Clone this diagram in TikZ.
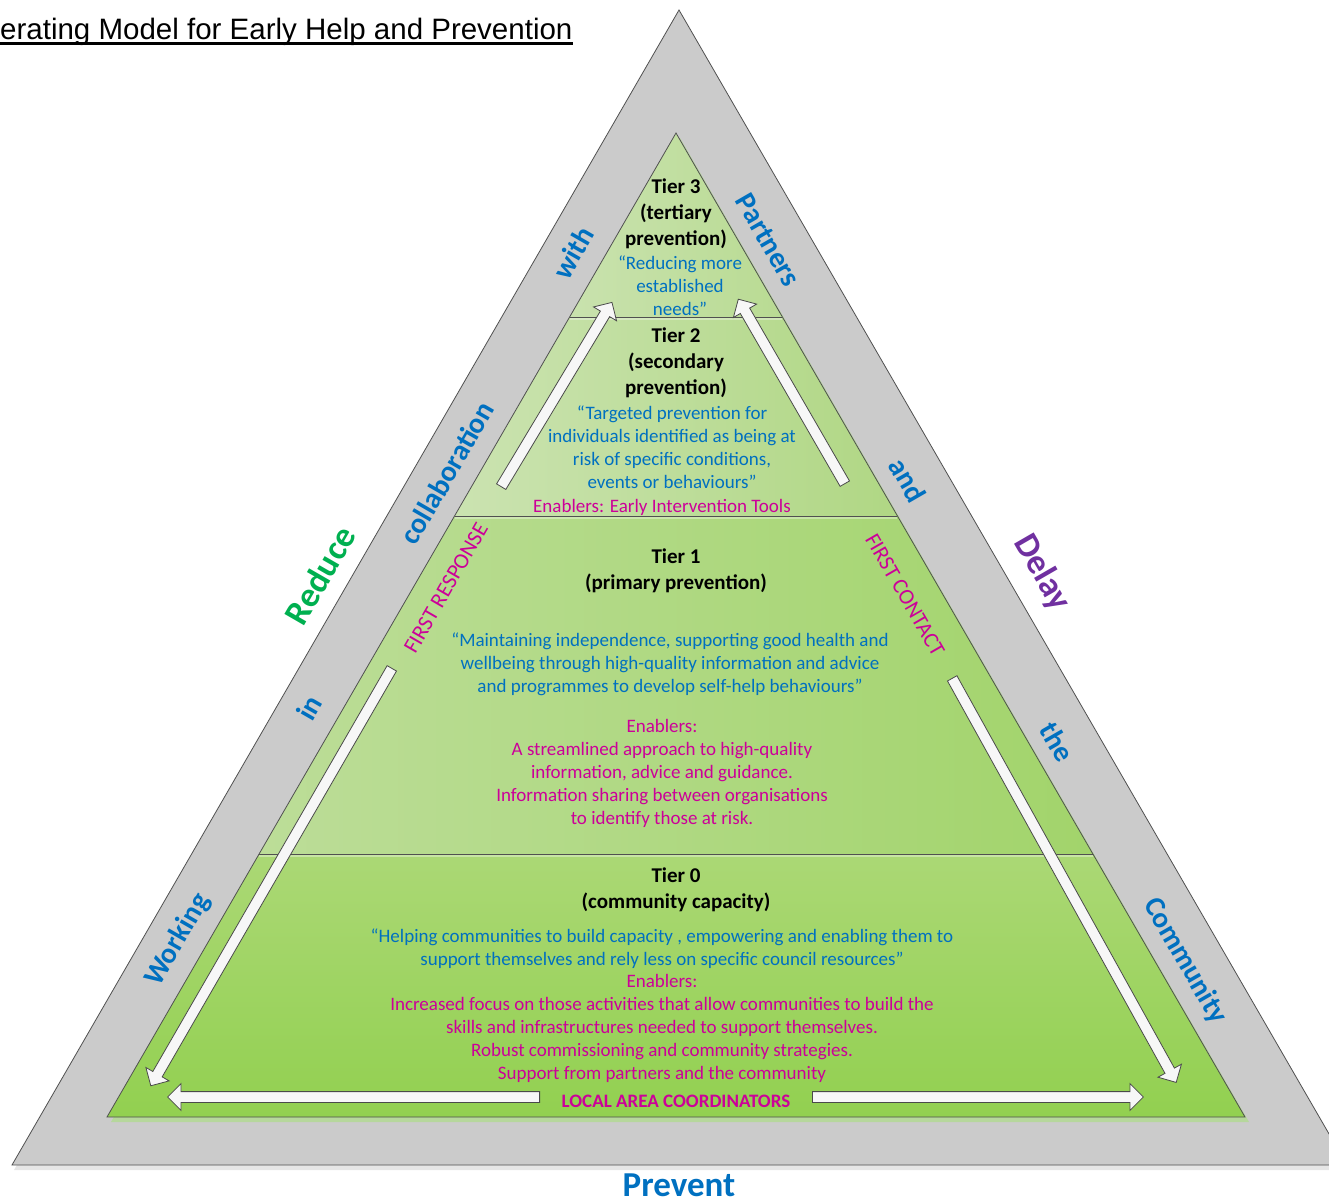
\documentclass[tikz,border=0pt]{standalone}
\usepackage{fontspec}
\setmainfont{Carlito}
\newfontfamily\titlefont{Liberation Sans}
\usetikzlibrary{calc,shapes.arrows}

\definecolor{bandgrey}{HTML}{CBCBCB}
\definecolor{bandshadow}{HTML}{E6E6E6}
\definecolor{edgegrey}{HTML}{505050}
\definecolor{greenshadow}{HTML}{B6D79C}
\definecolor{quoteblue}{HTML}{0070C0}
\definecolor{enablerpink}{HTML}{CC0099}
\definecolor{reducegreen}{HTML}{00B050}
\definecolor{delaypurple}{HTML}{7030A0}
\definecolor{arrowfill}{HTML}{F7F7F7}
\definecolor{arrowline}{HTML}{4A4A4A}
\definecolor{tierthreeleft}{HTML}{C9E2AE}
\definecolor{tierthreeright}{HTML}{B9DB93}
\definecolor{tiertwoleft}{HTML}{CBE3B1}
\definecolor{tiertworight}{HTML}{B0D784}
\definecolor{tieroneleft}{HTML}{BCDD98}
\definecolor{tieroneright}{HTML}{A2D46B}
\definecolor{tierzerotop}{HTML}{ABD875}
\definecolor{tierzerobottom}{HTML}{92D050}

\begin{document}
\begin{tikzpicture}[x=1pt,y=-1pt,
    tierhead/.style={font=\bfseries\fontsize{21}{26}\selectfont, align=center, inner sep=0pt},
    tierquote/.style={font=\fontsize{19}{23}\selectfont, text=quoteblue, align=center, inner sep=0pt},
    enabler/.style={font=\fontsize{19}{23}\selectfont, text=enablerpink, align=center, inner sep=0pt},
    bandword/.style={font=\bfseries\fontsize{29}{34}\selectfont, text=quoteblue, inner sep=0pt},
    outerword/.style={font=\bfseries\fontsize{35}{40}\selectfont, inner sep=0pt},
    contactword/.style={font=\fontsize{22}{25}\selectfont, text=enablerpink, inner sep=0pt},
    flowarrow/.style={single arrow, anchor=tail, draw=arrowline, fill=arrowfill,
      line width=0.8pt, inner sep=5pt, single arrow head extend=8pt}]
  \useasboundingbox (0,0) rectangle (1329,1198);

  % outer grey band
  \coordinate (gtop) at (679,10);
  \coordinate (gleft) at (12,1165);
  \coordinate (gright) at (1347,1165);
  \fill[bandshadow] ($(gtop)+(2,5)$) -- ($(gleft)+(2,5)$) -- ($(gright)+(2,5)$) -- cycle;
  \filldraw[fill=bandgrey, draw=edgegrey, line width=0.8pt] (gtop) -- (gleft) -- (gright) -- cycle;

  % inner pyramid, cut into the four tiers
  \coordinate (apex) at (676,133);
  \coordinate (bl) at (107,1117);
  \coordinate (br) at (1245,1117);
  \foreach \t/\f in {3/0.18699, 2/0.38923, 1/0.73272} {
    \coordinate (l\t) at ($(apex)!\f!(bl)$);
    \coordinate (r\t) at ($(apex)!\f!(br)$);
  }
  \fill[greenshadow] ($(apex)+(4,5)$) -- ($(bl)+(4,5)$) -- ($(br)+(4,5)$) -- cycle;
  \shade[left color=tierthreeleft, right color=tierthreeright] (apex) -- (l3) -- (r3) -- cycle;
  \shade[left color=tiertwoleft, right color=tiertworight] (l3) -- (l2) -- (r2) -- (r3) -- cycle;
  \shade[left color=tieroneleft, right color=tieroneright] (l2) -- (l1) -- (r1) -- (r2) -- cycle;
  \shade[top color=tierzerotop, bottom color=tierzerobottom] (l1) -- (bl) -- (br) -- (r1) -- cycle;
  \draw[edgegrey, line width=0.8pt] (apex) -- (bl) -- (br) -- cycle;
  \foreach \t in {3,2,1} {
    \draw[white, opacity=0.35, line width=1.5pt] ([yshift=-2pt]l\t) -- ([yshift=-2pt]r\t);
    \draw[edgegrey, line width=1pt] (l\t) -- (r\t);
  }

  % white block arrows
  \node[flowarrow, rotate=59, minimum height=215pt] (upleft) at (501,487) {};
  \node[flowarrow, rotate=120, minimum height=213pt] (upright) at (845,484) {};
  \node[flowarrow, rotate=240, minimum height=482pt] (downleft) at (392,668) {};
  \node[flowarrow, rotate=-61, minimum height=462pt] (downright) at (952,678) {};
  \node[flowarrow, rotate=180, minimum height=372pt] (alongleft) at (540,1097) {};
  \node[flowarrow, minimum height=331pt] (alongright) at (812,1097) {};

  % tier texts
  \node[tierhead] (tier3) at (676,214) {Tier 3\\(tertiary\\prevention)};
  \node[tierquote] (quote3) at (680,286) {“Reducing more\\established\\needs”};
  \node[tierhead] (tier2) at (676,363) {Tier 2\\(secondary\\prevention)};
  \node[tierquote] (quote2) at (672,447) {“Targeted prevention for\\individuals identified as being at\\risk of specific conditions,\\events or behaviours”};
  \node[enabler] (enable2) at (662,507) {Enablers: Early Intervention Tools};
  \node[tierhead] (tier1) at (676,571) {Tier 1\\(primary prevention)};
  \node[tierquote] (quote1) at (670,664) {“Maintaining independence, supporting good health and\\wellbeing through high-quality information and advice\\and programmes to develop self-help behaviours”};
  \node[enabler] (enable1) at (662,773) {Enablers:\\A streamlined approach to high-quality\\information, advice and guidance.\\Information sharing between organisations\\to identify those at risk.};
  \node[tierhead] (tier0) at (676,890) {Tier 0\\(community capacity)};
  \node[tierquote] (quote0) at (662,949) {“Helping communities to build capacity , empowering and enabling them to\\support themselves and rely less on specific council resources”};
  \node[enabler] (enable0) at (662,1028) {Enablers:\\Increased focus on those activities that allow communities to build the\\skills and infrastructures needed to support themselves.\\Robust commissioning and community strategies.\\Support from partners and the community};
  \node[enabler, font=\bfseries\fontsize{19}{23}\selectfont] (coordinators) at (676,1101) {LOCAL AREA COORDINATORS};
  \node[contactword, rotate=60] (response) at (446,588) {FIRST RESPONSE};
  \node[contactword, rotate=-60] (contact) at (905,595) {FIRST CONTACT};

  % words along the band
  \node[bandword, rotate=60] (working) at (178,940) {Working};
  \node[bandword, rotate=60] (in) at (309,708) {in};
  \node[bandword, rotate=60] (collab) at (447,473) {collaboration};
  \node[bandword, rotate=60] (with) at (573,253) {with};
  \node[bandword, rotate=-60] (partners) at (768,240) {Partners};
  \node[bandword, rotate=-60] (and) at (908,480) {and};
  \node[bandword, rotate=-60] (the) at (1057,742) {the};
  \node[bandword, rotate=-60] (community) at (1185,961) {Community};
  \node[outerword, text=reducegreen, rotate=60] (reduce) at (320,575) {Reduce};
  \node[outerword, text=delaypurple, rotate=-60] (delay) at (1042,573) {Delay};
  \node[outerword, text=quoteblue] (prevent) at (679,1185) {Prevent};

  % clipped heading
  \node[anchor=base west, inner sep=0pt, font=\titlefont\fontsize{29.5}{34}\selectfont] (title) at (0,40) {erating Model for Early Help and Prevention};
  \draw[line width=2.5pt] ([yshift=-3.5pt]title.base west) -- ([yshift=-3.5pt]title.base east);
\end{tikzpicture}
\end{document}
